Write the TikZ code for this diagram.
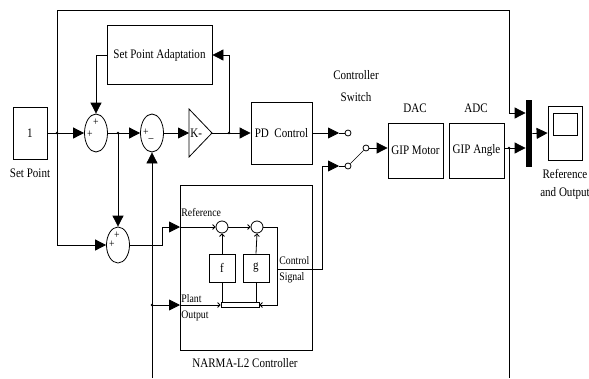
\documentclass[tikz,border=0pt]{standalone}
\usepackage{fontspec}
\setmainfont[FakeStretch=0.85]{Liberation Serif}
\usetikzlibrary{arrows.meta,shapes.geometric}
\newcommand\fntA{\fontsize{13}{14}\selectfont}
\newcommand\fntB{\fontsize{11.5}{12}\selectfont}
\begin{document}
\begin{tikzpicture}[x=1pt,y=-1pt,line width=0.8pt,
  blk/.style={draw,rectangle,inner sep=0,font=\fntA},
  lbl/.style={inner sep=0,font=\fntA},
  sl/.style={inner sep=0,font=\fntB,anchor=west},
  sumb/.style={draw,ellipse,inner sep=0,minimum width=23pt,minimum height=38pt},
  sg/.style={inner sep=0,font=\fntB},
  port/.style={draw,circle,inner sep=0,minimum size=6pt},
  dot/.style={fill,circle,inner sep=0,minimum size=2.6pt},
  sig/.style={-{Triangle[length=11pt,width=11pt]}},
  pin/.style={-{Straight Barb[length=2.5pt,width=5pt]}}]
\useasboundingbox (0,0) rectangle (589,378);
\fill[white] (0,0) rectangle (589,378);
% blocks
\node[blk,minimum width=34pt,minimum height=52pt] (sp) at (30,133) {1};
\node[lbl] (splbl) at (30,173) {Set Point};
\node[sumb] (s1) at (96,133) {};
\node[sumb] (s2) at (152,133) {};
\node[sumb,minimum height=36pt] (s3) at (118,245) {};
\node[sg] at (90,134) {+};
\node[sg] at (96,122) {+};
\node[sg] at (146,132) {+};
\node[sg] at (151,140) {–};
\node[sg] at (117,235) {+};
\node[sg] at (112,244) {+};
\node[blk,minimum width=105pt,minimum height=59pt] (spa) at (159.5,55) {Set Point Adaptation};
\coordinate (gin) at (189,133);
\coordinate (gout) at (212,133);
\draw (189,109) -- (212,133) -- (189,157) -- cycle;
\node[lbl,anchor=west] (gk) at (190,133) {K-};
\node[blk,minimum width=61pt,minimum height=62pt] (pd) at (281.5,133) {PD\ \ Control};
\node[blk,minimum width=132pt,minimum height=165pt] (narma) at (246,267.5) {};
\node[lbl] (nlbl) at (245,363) {NARMA-L2 Controller};
\node[blk,minimum width=55pt,minimum height=55pt] (mot) at (415.5,150.5) {GIP Motor};
\node[lbl] (dac) at (415,108) {DAC};
\node[blk,minimum width=55pt,minimum height=55pt] (ang) at (476.5,150.5) {GIP Angle};
\node[lbl] (adc) at (476,108) {ADC};
\node[fill,rectangle,inner sep=0,minimum width=6pt,minimum height=67pt] (mux) at (529,133.5) {};
\node[blk,minimum width=34pt,minimum height=54pt] (sc) at (565,133) {};
\draw (553,113) rectangle (577,135);
\node[lbl] (sl1) at (565,174) {Reference};
\node[lbl] (sl2) at (565,193) {and Output};
\node[lbl] (cs1) at (356,75) {Controller};
\node[lbl] (cs2) at (356,97) {Switch};
% switch ports
\node[port] (pu) at (348,133) {};
\node[port] (pl) at (348,166) {};
\node[port] (po) at (366,148) {};
\draw[line width=0.6pt] (pl) -- (po);
% NARMA inside
\node[port,minimum size=12pt] (c1) at (222,227) {};
\node[port,minimum size=12pt] (c2) at (257,227) {};
\node[blk,minimum width=26pt,minimum height=28pt] (f) at (222,268) {f};
\node[blk,minimum width=26pt,minimum height=28pt] (g) at (256,268) {g};
\node[draw,rectangle,inner sep=0,minimum width=38pt,minimum height=5pt] (bar) at (240,305) {};
\node[sl] (rlbl) at (181,213) {Reference};
\node[sl] (plbl) at (181,299) {Plant};
\node[sl] (olbl) at (181,316) {Output};
\node[sl] (clbl) at (279,261) {Control};
\node[sl] (sglbl) at (279,278) {Signal};
\coordinate (nref) at (180,227);
\coordinate (npo) at (180,305);
\coordinate (nout) at (277,269);
\coordinate (cr) at (277,227);
\coordinate (crb) at (277,305);
\draw[pin] (nref) -- (c1.west);
\draw[pin] (c1.east) -- (c2.west);
\draw[pin] (c2.east) -- (cr) -- (crb) -- (bar.east);
\draw[pin] (npo) -- (bar.west);
\draw (bar.north -| f.south) -- (f.south);
\draw[pin] (f.north) -- (c1.south);
\draw (bar.north -| g.south) -- (g.south);
\draw[pin] (g.north) -- (c2.south);
% junctions
\node[dot] (j1) at (57,133) {};
\node[dot] (j2) at (118,133) {};
\node[dot] (j3) at (229,133) {};
\node[dot] (j4) at (152,305) {};
\node[dot] (j5) at (509,148) {};
\coordinate (tl) at (57,10);
\coordinate (tr) at (509,10);
\coordinate (mr) at (509,113);
\coordinate (fb) at (152,378);
\coordinate (fo) at (509,378);
\coordinate (a1) at (339,133);
\coordinate (a2) at (339,166);
\coordinate (ao) at (504,148);
% connectors
\draw[sig] (sp.east) -- (s1.west);
\draw[sig] (j1.center) -- (tl) -- (tr) -- (mr) -- (mr -| mux.west);
\draw[sig] (j1.center) |- (s3.west);
\draw[sig] (s1.east) -- (s2.west);
\draw[sig] (j2.center) -- (s3.north);
\draw[sig] (s2.east) -- (gin);
\draw[sig] (gout) -- (pd.west);
\draw[sig] (j3.center) |- (spa.east);
\draw[sig] (spa.west) -| (s1.north);
\draw[sig] (s3.east) -- (162,245) |- (nref);
\draw[sig] (fb) -- (s2.south);
\draw[sig] (j4.center) -- (npo);
\draw[sig] (pd.east) -- (a1);
\draw (a1) -- (pu.west);
\draw[sig] (nout) -- (322,269) |- (a2);
\draw (a2) -- (pl.west);
\draw[sig] (po.east) -- (po.east -| mot.west);
\draw[sig] (ao) -- (ao -| mux.west);
\draw (j5.center) -- (fo);
\draw[sig] (mux.east) -- (sc.west);
\end{tikzpicture}
\end{document}
